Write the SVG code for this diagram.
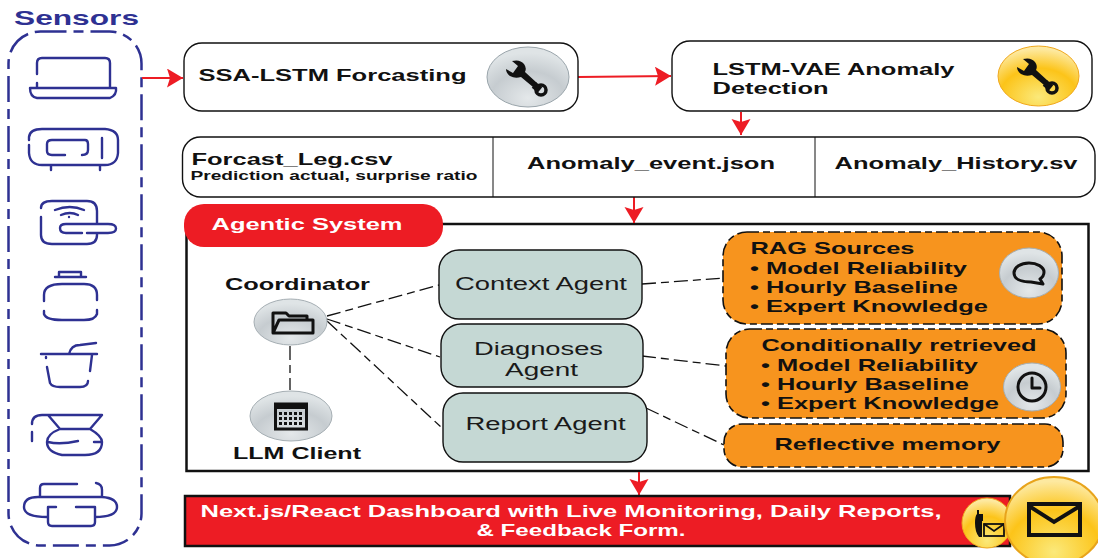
<svg xmlns="http://www.w3.org/2000/svg" width="1098" height="558" viewBox="0 0 1098 558">
<style>
text{font-family:"Liberation Sans",Arial,sans-serif;fill:#111;}
.b{font-weight:700;font-size:17px;}
.r{font-size:18px;fill:#1a1a1a;}
.w{fill:#fff;font-weight:700;font-size:17px;}
.box{fill:#fff;stroke:#111;stroke-width:1.4;}
.agent{fill:#c5d8d4;stroke:#111;stroke-width:1.4;}
.rag{fill:#f7941e;stroke:#111;stroke-width:1.6;stroke-dasharray:12 4 7 4;}
.s{fill:none;stroke:#2e3192;stroke-width:2.4;stroke-linecap:round;stroke-linejoin:round;}
.dash{fill:none;stroke:#111;stroke-width:1.3;stroke-dasharray:14 5 8 5;}
.red{fill:none;stroke:#ed1c24;stroke-width:2;}
.ic{fill:none;stroke:#111;stroke-width:3;stroke-linejoin:round;stroke-linecap:round;}
</style>
<defs>
<marker id="ah" markerUnits="userSpaceOnUse" markerWidth="18" markerHeight="20" refX="16" refY="9.500" orient="auto"><path d="M0 0L16 9.500L0 19L3 9.500Z" fill="#ed1c24"/></marker>
<radialGradient id="grey" cx="50%" cy="85%" r="75%"><stop offset="0" stop-color="#e4e8ea"/><stop offset="0.6" stop-color="#c6ccd0"/><stop offset="1" stop-color="#dfe4e6"/></radialGradient>
<radialGradient id="gold" cx="50%" cy="85%" r="80%"><stop offset="0" stop-color="#fbe97a"/><stop offset="0.6" stop-color="#fcc419"/><stop offset="1" stop-color="#fde9a0"/></radialGradient>
<g id="wrench">
<path d="M-20-8L-13-4L-8-11L-14-16Q-6-18-2-13Q1-9-1-5L11 6L7 10L-5 0Q-11 2-16-1Q-20-4-20-8Z" fill="#111"/>
<path d="M8 8L14 13" stroke="#111" stroke-width="7"/>
<circle cx="15" cy="13" r="5" fill="none" stroke="#111" stroke-width="3.500"/>
</g>
</defs>

<g id="sensors">
<text x="76.500" y="25" text-anchor="middle" textLength="125" lengthAdjust="spacingAndGlyphs" style="font-weight:700;font-size:21px;fill:#2e3192">Sensors</text>
<rect x="8.500" y="31.500" width="133" height="514" rx="32" ry="32" fill="none" stroke="#2e3192" stroke-width="2.500" stroke-dasharray="26 7 10 7"/>
<path class="s" d="M37 74V63Q37 58 42 58H105Q110 58 110 63V87M37 83V87M30 88H82M99 88H116Q117 95 110 98H37Q30 97 30 88Z"/>
<path class="s" d="M29 140V137Q30 129 42 129H105Q118 130 118 140V153Q117 165 105 165H42Q30 165 29 153V145M65 155H52Q47 155 47 151V144Q47 140 52 140H85Q88 140 88 144V150Q88 155 82 155M102 138V158M51 165V170M100 165V170"/>
<path class="s" d="M41 208Q41 201 52 201H87Q97 201 97 211V224M97 233V235Q97 244 87 244H52Q41 244 41 235V217M82 233H66Q60 233 60 228Q60 224 66 224H108Q116 224 116 228.500Q116 233 108 233H87M55 210Q70 204 84 210M61 215Q70 211 78 215"/>
<circle cx="69" cy="217" r="1.200" fill="#2e3192"/>
<path class="s" d="M55 277H86M59 277V272H81V277M44 301V295Q44 284 62 284H84Q97 284 97 295V300M44 311V314Q46 320 62 320H84Q95 320 97 314V310"/>
<path class="s" d="M41 354H97M69 354Q71 345 80 345L96 343M46 357V358M47 367L50 383Q52 387 60 387H80Q88 387 88 381M90 371L92 355"/>
<path class="s" d="M32 424Q32 415 42 415H102L90 429H60L48 415M32 432V441M90 429Q102 436 102 442Q102 455 85 455H62Q47 452 47 442Q47 434 60 429M48 442Q60 445 78 441M94 442H100"/>
<path class="s" d="M77 484H44Q40 484 40 488V497M96 483Q102 484 102 490V497M38 497H102Q117 498 117 507Q117 517 95 517M38 497Q24 497 24 507Q24 517 47 517M56 507H48V522Q48 526 52 526H91Q95 526 95 522V507H76"/>
</g>

<g id="agentic-system">
<rect x="186.500" y="224" width="902" height="247" fill="#fff" stroke="#111" stroke-width="2.500"/>
<rect x="184" y="204" width="259" height="43" rx="20" fill="#ed1c24"/>
<text class="w" x="211.500" y="230" textLength="191" lengthAdjust="spacingAndGlyphs">Agentic System</text>
</g>

<g id="connectors">
<path class="red" d="M142 78H183" marker-end="url(#ah)"/>
<path class="red" d="M578 77L671 76" marker-end="url(#ah)"/>
<path class="red" d="M741 112V135" marker-end="url(#ah)"/>
<path class="red" d="M634 197V223" marker-end="url(#ah)"/>
<path class="red" d="M639 472V495" marker-end="url(#ah)"/>
<path class="dash" d="M327 316L439 285"/>
<path class="dash" d="M327 319L440 357"/>
<path class="dash" d="M327 321L442 428"/>
<path class="dash" d="M290 346V390"/>
<path class="dash" d="M642 284L724 278"/>
<path class="dash" d="M642 356L726 366"/>
<path class="dash" d="M646 408L724 445"/>
</g>

<g id="ssa-lstm">
<rect class="box" x="184" y="43" width="394" height="68" rx="18"/>
<text class="b" x="198.500" y="81" textLength="268" lengthAdjust="spacingAndGlyphs">SSA-LSTM Forcasting</text>
<ellipse cx="528" cy="77" rx="41" ry="30" fill="url(#grey)" stroke="#9aa5ab"/>
<use href="#wrench" x="526" y="77"/>
</g>

<g id="lstm-vae">
<rect class="box" x="672" y="41" width="420" height="70" rx="18"/>
<text class="b" x="712.500" y="75" textLength="242" lengthAdjust="spacingAndGlyphs">LSTM-VAE Anomaly</text>
<text class="b" x="712.500" y="94" textLength="116" lengthAdjust="spacingAndGlyphs">Detection</text>
<ellipse cx="1038.500" cy="76" rx="40.500" ry="30" fill="url(#gold)" stroke="#f0a81e"/>
<use href="#wrench" x="1037" y="75"/>
</g>

<g id="data-files">
<rect class="box" x="182.500" y="137" width="912.500" height="60" rx="18"/>
<path d="M493 137V197M815 137V197" stroke="#111" stroke-width="1"/>
<text class="b" x="191.500" y="165" textLength="201" lengthAdjust="spacingAndGlyphs">Forcast_Leg.csv</text>
<text x="190.500" y="180" textLength="287" lengthAdjust="spacingAndGlyphs" style="font-weight:700;font-size:12.500px">Prediction actual, surprise ratio</text>
<text class="b" x="527" y="169" textLength="248" lengthAdjust="spacingAndGlyphs">Anomaly_event.json</text>
<text class="b" x="834.500" y="169" textLength="243" lengthAdjust="spacingAndGlyphs">Anomaly_History.sv</text>
</g>

<g id="coordinator">
<text class="b" x="225" y="290" textLength="145" lengthAdjust="spacingAndGlyphs">Coordinator</text>
<ellipse cx="290.500" cy="322" rx="36.500" ry="23" fill="url(#grey)" stroke="#a5aeb3"/>
<path class="ic" d="M273 333V313H286L289 316H307V320M273 333L279 320H313V333H273Z"/>
</g>

<g id="llm-client">
<ellipse cx="291" cy="416" rx="41" ry="25" fill="url(#grey)" stroke="#a5aeb3"/>
<rect x="275.500" y="404" width="31" height="25" fill="none" stroke="#111" stroke-width="3"/>
<path d="M275 407H307" stroke="#111" stroke-width="4"/>
<path d="M279 413.500H303M279 418.500H303M279 423.500H303" stroke="#111" stroke-width="3" stroke-dasharray="3 2"/>
<text class="b" x="233" y="459" textLength="128" lengthAdjust="spacingAndGlyphs">LLM Client</text>
</g>

<g id="context-agent">
<rect class="agent" x="439" y="250" width="203" height="69" rx="20"/>
<text class="r" x="455" y="290" textLength="172" lengthAdjust="spacingAndGlyphs">Context Agent</text>
</g>
<g id="diagnoses-agent">
<rect class="agent" x="441" y="324" width="202" height="63" rx="20"/>
<text class="r" x="474" y="355" textLength="129" lengthAdjust="spacingAndGlyphs">Diagnoses</text>
<text class="r" x="505" y="376" textLength="73" lengthAdjust="spacingAndGlyphs">Agent</text>
</g>
<g id="report-agent">
<rect class="agent" x="443" y="393" width="204" height="69" rx="20"/>
<text class="r" x="465.500" y="430" textLength="160" lengthAdjust="spacingAndGlyphs">Report Agent</text>
</g>

<g id="rag-sources">
<rect class="rag" x="723" y="232" width="339" height="92" rx="24"/>
<text class="b" x="750.500" y="254" textLength="164" lengthAdjust="spacingAndGlyphs">RAG Sources</text>
<text class="b" x="750" y="274" textLength="217" lengthAdjust="spacingAndGlyphs">• Model Reliability</text>
<text class="b" x="750" y="293" textLength="208" lengthAdjust="spacingAndGlyphs">• Hourly Baseline</text>
<text class="b" x="750" y="312" textLength="238" lengthAdjust="spacingAndGlyphs">• Expert Knowledge</text>
<ellipse cx="1029" cy="273" rx="29.500" ry="25" fill="url(#grey)" stroke="#a5aeb3"/>
<path class="ic" d="M1029 263C1021 263 1014 267 1014 273C1014 279 1021 282 1031 282L1043 284L1040 279C1043 277 1044 275 1044 272C1044 267 1037 263 1029 263Z"/>
</g>

<g id="conditionally-retrieved">
<rect class="rag" x="726" y="329" width="340" height="89" rx="24"/>
<text class="b" x="761.500" y="351" textLength="275" lengthAdjust="spacingAndGlyphs">Conditionally retrieved</text>
<text class="b" x="761" y="371" textLength="217" lengthAdjust="spacingAndGlyphs">• Model Reliability</text>
<text class="b" x="761" y="390" textLength="208" lengthAdjust="spacingAndGlyphs">• Hourly Baseline</text>
<text class="b" x="761" y="409" textLength="238" lengthAdjust="spacingAndGlyphs">• Expert Knowledge</text>
<ellipse cx="1032" cy="387" rx="28.500" ry="24" fill="url(#grey)" stroke="#a5aeb3"/>
<circle cx="1032" cy="387" r="14" fill="none" stroke="#111" stroke-width="3"/>
<path class="ic" d="M1032 378V388H1040"/>
</g>

<g id="reflective-memory">
<rect class="rag" x="724" y="424" width="339" height="43" rx="18"/>
<text class="b" x="774.500" y="450" textLength="226" lengthAdjust="spacingAndGlyphs">Reflective memory</text>
</g>

<g id="dashboard">
<rect x="185" y="496" width="825" height="50" fill="#ed1c24" stroke="#111" stroke-width="2.500"/>
<text class="w" x="200.500" y="517" textLength="741" lengthAdjust="spacingAndGlyphs">Next.js/React Dashboard with Live Monitoring, Daily Reports,</text>
<text class="w" x="476.500" y="536" textLength="209" lengthAdjust="spacingAndGlyphs">&amp; Feedback Form.</text>
<ellipse cx="987" cy="523" rx="25" ry="25" fill="url(#gold)" stroke="#f0a81e"/>
<path d="M977 510H979V514H983V521H982V537H979Q975 532 975 523Q975 516 977 514Z" fill="#111"/>
<rect x="984" y="524" width="20" height="12" fill="none" stroke="#111" stroke-width="1.800"/>
<path d="M984 524L994 531L1004 524" fill="none" stroke="#111" stroke-width="1.800"/>
<ellipse cx="1054" cy="521" rx="49" ry="44" fill="url(#gold)" stroke="#e8a41c" stroke-width="2"/>
<rect x="1029" y="504" width="51" height="31" fill="none" stroke="#111" stroke-width="4"/>
<path d="M1029 506L1054 522L1080 506" fill="none" stroke="#111" stroke-width="4"/>
</g>
</svg>
